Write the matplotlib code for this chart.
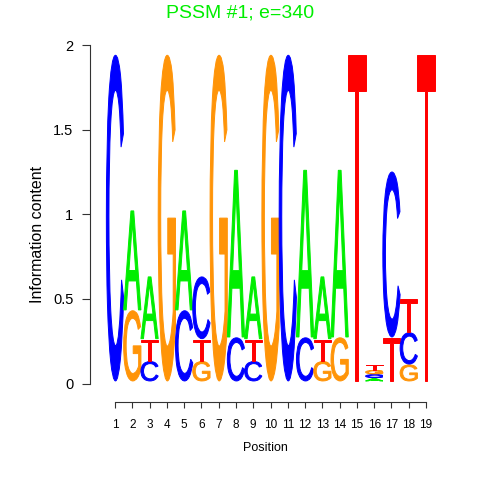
import matplotlib
matplotlib.use("Agg")
import matplotlib.pyplot as plt
from matplotlib.textpath import TextPath
from matplotlib.patches import PathPatch
from matplotlib.font_manager import FontProperties
from matplotlib.transforms import Affine2D

# information content per letter, one entry per position (1..19)
positions = list(range(1, 20))
A = [0, 0.59, 0.37, 0, 0.59, 0, 0, 0.99, 0.37, 0, 0, 0.99, 0.37, 0.99, 0, 0.020, 0, 0, 0]
C = [1.93, 0, 0.12, 0, 0.42, 0.37, 0, 0.26, 0.12, 0, 1.93, 0.26, 0, 0, 0, 0.022, 0.98, 0.19, 0]
G = [0, 0.42, 0, 1.93, 0, 0.12, 1.93, 0, 0, 1.93, 0, 0, 0.12, 0.26, 0, 0.025, 0, 0.10, 0]
T = [0, 0, 0.13, 0, 0, 0.13, 0, 0, 0.13, 0, 0, 0, 0.13, 0, 1.93, 0.035, 0.26, 0.20, 1.93]

y_ticks = [0, 0.5, 1, 1.5, 2]
y_tick_labels = ["0", "0.5", "1", "1.5", "2"]
title = "PSSM #1; e=340"

colors = {"A": "#00EE00", "C": "#0000FF", "G": "#FF9408", "T": "#FF0000"}
font = FontProperties(family="Liberation Sans", weight="normal")


def draw_letter(ax, letter, x, y0, height, width=1.0):
    path = TextPath((0, 0), letter, size=1, prop=font)
    ext = path.get_extents()
    tr = (Affine2D()
          .translate(-ext.x0, -ext.y0)
          .scale(width / ext.width, height / ext.height)
          .translate(x - width / 2, y0))
    # thin edge in the same colour to thicken the strokes a bit
    ax.add_patch(PathPatch(tr.transform_path(path), facecolor=colors[letter],
                           edgecolor=colors[letter], linewidth=0.7))


fig = plt.figure(figsize=(4.8, 4.8), dpi=100)
# axes box in pixels: left 90, right 440, bottom 402, top 40
ax = fig.add_axes([90 / 480, (480 - 402) / 480, 350 / 480, 362 / 480])
px = 17.28
ax.set_xlim(1 - 25 / px, 1 + 325 / px)
ypx = 169.2
ax.set_ylim(-(402 - 383.5) / ypx, (383.5 - 40) / ypx)

for i, pos in enumerate(positions):
    stack = [("A", A[i]), ("C", C[i]), ("G", G[i]), ("T", T[i])]
    stack = sorted([s for s in stack if s[1] > 0], key=lambda s: s[1])
    y = 0.015
    for letter, h in stack:
        draw_letter(ax, letter, pos, y, h - 0.005)
        y += h

for side in ["top", "right"]:
    ax.spines[side].set_visible(False)
ax.spines["left"].set_bounds(0, 2)
ax.spines["bottom"].set_bounds(1, 19)
ax.spines["left"].set_color("#333333")
ax.spines["bottom"].set_color("#333333")

ax.set_yticks(y_ticks)
ax.set_yticklabels(y_tick_labels, fontsize=10.5, family="Liberation Sans")
ax.set_xticks(positions)
ax.set_xticklabels([str(p) for p in positions], fontsize=8.5, family="Liberation Sans")
ax.tick_params(axis="y", length=6, direction="out", pad=6, colors="#333333", labelcolor="black")
ax.tick_params(axis="x", length=4.5, direction="out", pad=8, colors="#333333", labelcolor="black")

ax.set_xlabel("Position", fontsize=9, family="Liberation Sans", labelpad=8)
fig.text(38 / 480, 1 - 234 / 480, "Information content", rotation=90,
         ha="center", va="center", fontsize=11.5, family="Liberation Sans")
fig.text(240 / 480, 1 - 13 / 480, title, ha="center", va="center",
         fontsize=14, color="#00EE00", family="Liberation Sans")

fig.savefig("out.png", dpi=100)
